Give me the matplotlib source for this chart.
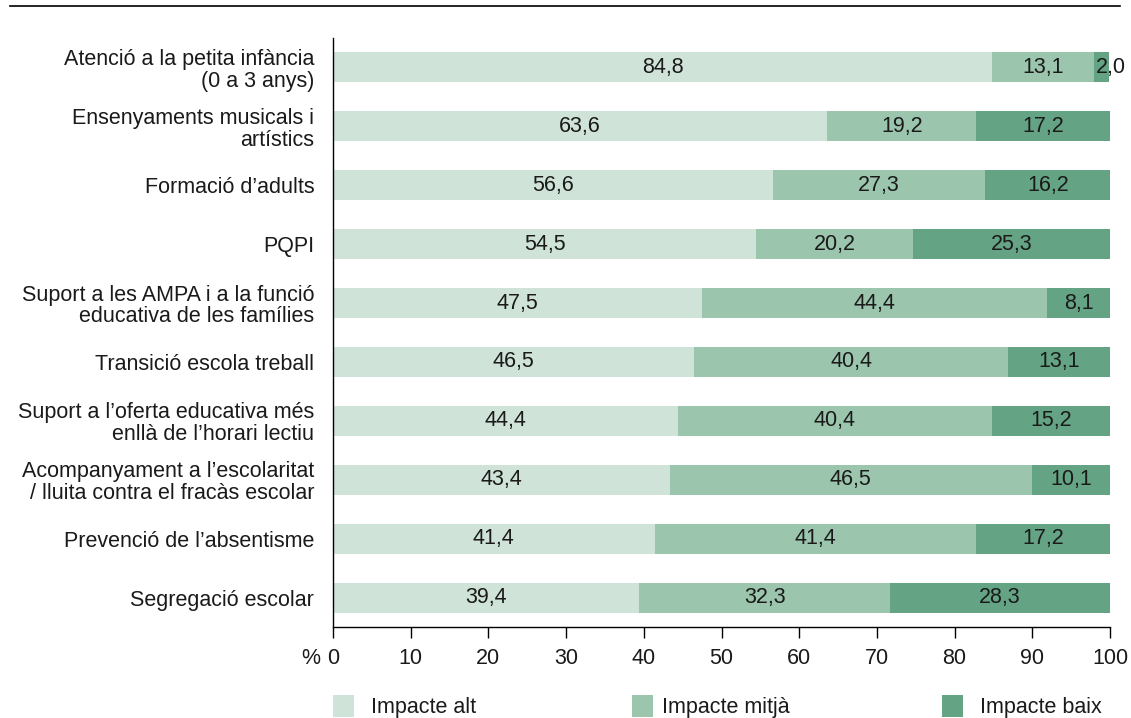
import matplotlib
matplotlib.use("Agg")
import matplotlib.pyplot as plt
from matplotlib.patches import Rectangle
from matplotlib.lines import Line2D

plt.rcParams['font.family'] = ['Liberation Sans', 'DejaVu Sans']

categories = [
    "Atenció a la petita infància\n(0 a 3 anys)",
    "Ensenyaments musicals i\nartístics",
    "Formació d’adults",
    "PQPI",
    "Suport a les AMPA i a la funció\neducativa de les famílies",
    "Transició escola treball",
    "Suport a l’oferta educativa més\nenllà de l’horari lectiu",
    "Acompanyament a l’escolaritat\n/ lluita contra el fracàs escolar",
    "Prevenció de l’absentisme",
    "Segregació escolar",
]
impacte_alt = [84.8, 63.6, 56.6, 54.5, 47.5, 46.5, 44.4, 43.4, 41.4, 39.4]
impacte_mitja = [13.1, 19.2, 27.3, 20.2, 44.4, 40.4, 40.4, 46.5, 41.4, 32.3]
impacte_baix = [2.0, 17.2, 16.2, 25.3, 8.1, 13.1, 15.2, 10.1, 17.2, 28.3]
series_names = ["Impacte alt", "Impacte mitjà", "Impacte baix"]
colors = ["#cfe3d8", "#9bc5ad", "#64a383"]
xticks = [0, 10, 20, 30, 40, 50, 60, 70, 80, 90, 100]

W, H = 1131, 718
fig = plt.figure(figsize=(W / 100, H / 100), dpi=100)
ax = fig.add_axes([333 / W, 1 - 627 / H, (1110 - 333) / W, (627 - 38) / H])

fs = 15.5
ypos = list(range(len(categories)))
series = [impacte_alt, impacte_mitja, impacte_baix]
left = [0.0] * len(categories)
for vals, col in zip(series, colors):
    ax.barh(ypos, vals, left=left, height=0.51, color=col, edgecolor="none")
    for y, (l, v) in enumerate(zip(left, vals)):
        label = f"{v:.1f}".replace(".", ",")
        if v < 5:
            ax.text(l + 0.3, y, label, ha="left", va="center", fontsize=fs,
                    color="#1a1a1a", clip_on=False)
        else:
            ax.text(l + v / 2, y, label, ha="center", va="center", fontsize=fs,
                    color="#1a1a1a")
    left = [a + b for a, b in zip(left, vals)]

ax.set_xlim(0, 100)
ax.set_ylim(len(categories) - 0.5, -0.5)
ax.set_yticks(ypos)
ax.set_yticklabels(categories, fontsize=fs, color="#1a1a1a", linespacing=1.05)
ax.tick_params(axis="y", length=0, pad=13.5)
ax.set_xticks(xticks)
ax.set_xticklabels([str(t) for t in xticks], fontsize=fs, color="#1a1a1a")
ax.tick_params(axis="x", direction="out", length=8, width=1, pad=7, color="black")
for s in ["top", "right"]:
    ax.spines[s].set_visible(False)
for s in ["left", "bottom"]:
    ax.spines[s].set_color("black")
    ax.spines[s].set_linewidth(1)
ax.patch.set_alpha(0)

# percent sign beside the first tick label
fig.text(301 / W, 1 - 658 / H, "%", ha="left", va="center", fontsize=fs, color="#1a1a1a")

# rule across the top
fig.add_artist(Line2D([10 / W, 1120 / W], [1 - 6 / H, 1 - 6 / H], color="black", lw=1.2))

# legend
legend_items = [(333, 371), (632, 662), (942, 980)]
for (px, tx), name, col in zip(legend_items, series_names, colors):
    fig.add_artist(Rectangle((px / W, 1 - 717 / H), 21 / W, 22 / H,
                             transform=fig.transFigure, color=col, lw=0))
    fig.text(tx / W, 1 - 707 / H, name, ha="left", va="center", fontsize=fs,
             color="#1a1a1a")

fig.savefig("out.png", dpi=100)
